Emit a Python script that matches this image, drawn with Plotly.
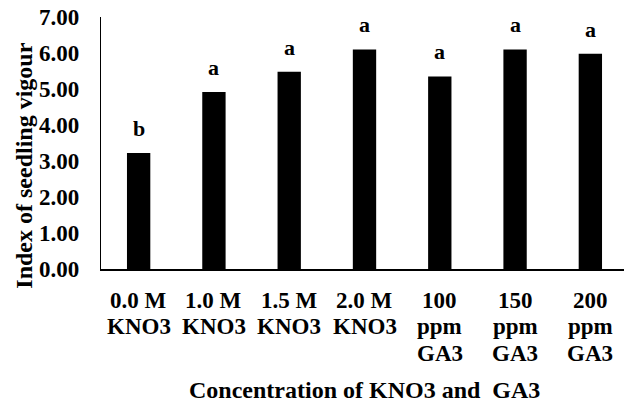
import plotly.graph_objects as go

categories = ["0.0 M KNO3", "1.0 M KNO3", "1.5 M KNO3", "2.0 M KNO3",
              "100 ppm GA3", "150 ppm GA3", "200 ppm GA3"]
tick_lines = [["0.0 M", "KNO3"], ["1.0 M", "KNO3"], ["1.5 M", "KNO3"], ["2.0 M", "KNO3"],
              ["100", "ppm", "GA3"], ["150", "ppm", "GA3"], ["200", "ppm", "GA3"]]
values = [3.22, 4.92, 5.48, 6.10, 5.35, 6.10, 5.98]
letters = ["b", "a", "a", "a", "a", "a", "a"]
y_ticks = [0, 1, 2, 3, 4, 5, 6, 7]
y_tick_labels = ["0.00", "1.00", "2.00", "3.00", "4.00", "5.00", "6.00", "7.00"]

FONT = "Liberation Serif"

fig = go.Figure()
fig.add_trace(go.Bar(x=categories, y=values, width=0.31,
                     marker=dict(color="black", line=dict(width=0))))

for c, v, t in zip(categories, values, letters):
    fig.add_annotation(x=c, y=v, text=t, showarrow=False, yanchor="bottom",
                       yshift=10, font=dict(family=FONT, size=22, color="black", weight=700))

# multi-line category labels with tight line pitch
for c, lines in zip(categories, tick_lines):
    for i, ln in enumerate(lines):
        fig.add_annotation(x=c, yref="paper", y=0, yshift=-31 - 26.5 * i,
                           xanchor="center", yanchor="middle", showarrow=False,
                           text=ln, font=dict(family=FONT, size=23, color="black", weight=700))

# y tick labels placed on the y scale
for v, lab in zip(y_ticks, y_tick_labels):
    fig.add_annotation(xref="paper", x=0, y=v, xshift=-20, xanchor="right",
                       yanchor="middle", showarrow=False, text=lab,
                       font=dict(family=FONT, size=23, color="black", weight=700))

# axis titles
fig.add_annotation(xref="paper", yref="paper", x=0.5, y=0, yshift=-121,
                   xanchor="center", yanchor="middle", showarrow=False,
                   text="Concentration of KNO3 and&nbsp; GA3",
                   font=dict(family=FONT, size=24, color="black", weight=700))
fig.add_annotation(xref="paper", yref="paper", x=0, xshift=-77, y=0.41,
                   xanchor="center", yanchor="middle", showarrow=False, textangle=-90,
                   text="Index of seedling vigour",
                   font=dict(family=FONT, size=24, color="black", weight=700))

# page body has an 8px default margin, so the figure is offset by (8, 8)
fig.update_layout(
    width=632, height=403,
    margin=dict(l=93, r=12, t=9, b=142),
    plot_bgcolor="white", paper_bgcolor="white",
    showlegend=False,
)
fig.update_xaxes(showline=True, linecolor="black", linewidth=2, ticks="",
                 showgrid=False, zeroline=False, showticklabels=False)
fig.update_yaxes(range=[0, 7], tickvals=y_ticks, showticklabels=False,
                 showline=True, linecolor="black", linewidth=1, ticks="",
                 showgrid=False, zeroline=False)

fig.write_html("out.html")
